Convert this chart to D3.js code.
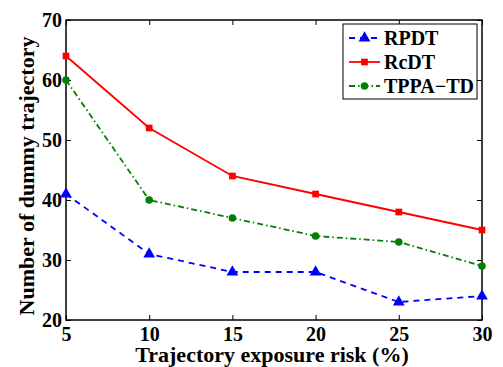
<!DOCTYPE html>
<html>
<head>
<meta charset="utf-8">
<script src="https://cdn.jsdelivr.net/npm/d3@7"></script>
<style>
  body { margin: 0; background: #fff; }
  svg text { font-family: "Liberation Serif", "Times New Roman", serif; font-weight: bold; }
  .tick text { font-size: 20px; fill: #000; }
</style>
</head>
<body>
<div id="chart"></div>
<script>
// data
var risk = [5, 10, 15, 20, 25, 30];
var rpdt = [41, 31, 28, 28, 23, 24];
var rcdt = [64, 52, 44, 41, 38, 35];
var tppa = [60, 40, 37, 34, 33, 29];
var xTicks = [5, 10, 15, 20, 25, 30];
var yTicks = [20, 30, 40, 50, 60, 70];

var width = 503, height = 367;
var margin = { top: 20, right: 21, bottom: 47, left: 66 };
var innerW = width - margin.left - margin.right;
var innerH = height - margin.top - margin.bottom;

var svg = d3.select('#chart').append('svg')
    .attr('width', width)
    .attr('height', height);

var g = svg.append('g')
    .attr('transform', `translate(${margin.left}, ${margin.top})`);

var x = d3.scaleLinear().domain([5, 30]).range([0, innerW]);
var y = d3.scaleLinear().domain([20, 70]).range([innerH, 0]);

// frame
g.append('rect')
    .attr('width', innerW).attr('height', innerH)
    .attr('fill', 'none').attr('stroke', '#000').attr('stroke-width', 1.5);

// axes with inward ticks (matlab style, all four sides)
var tickLen = 5;
var xb = g.append('g').attr('transform', `translate(0, ${innerH})`)
    .call(d3.axisBottom(x).tickValues(xTicks).tickSizeInner(-tickLen).tickSizeOuter(0).tickPadding(7));
var xt = g.append('g')
    .call(d3.axisTop(x).tickValues(xTicks).tickSizeInner(-tickLen).tickSizeOuter(0).tickFormat(''));
var yl = g.append('g')
    .call(d3.axisLeft(y).tickValues(yTicks).tickSizeInner(-tickLen).tickSizeOuter(0).tickPadding(4));
var yr = g.append('g').attr('transform', `translate(${innerW}, 0)`)
    .call(d3.axisRight(y).tickValues(yTicks).tickSizeInner(-tickLen).tickSizeOuter(0).tickFormat(''));

[xb, xt, yl, yr].forEach(function(a) {
    a.attr('font-size', null).attr('font-family', null);
    a.select('.domain').remove();
    a.selectAll('line').attr('stroke', '#000').attr('stroke-width', 1);
});
xb.selectAll('text').attr('dy', '0.71em');

// axis titles
svg.append('text')
    .attr('x', margin.left + innerW / 2 - 2).attr('y', 362)
    .attr('text-anchor', 'middle').attr('font-size', 22)
    .text('Trajectory exposure risk (%)');
svg.append('text')
    .attr('transform', `translate(34, ${margin.top + innerH / 2 + 6}) rotate(-90)`)
    .attr('text-anchor', 'middle').attr('font-size', 22)
    .text('Number of dummy trajectory');

var series = [
    { name: 'RPDT', values: rpdt, color: '#0000ff', dash: '6,5', marker: d3.symbolTriangle, size: 60 },
    { name: 'RcDT', values: rcdt, color: '#ff0000', dash: null, marker: d3.symbolSquare, size: 45 },
    { name: 'TPPA\u2212TD', values: tppa, color: '#008000', dash: '6,3,1.5,3', marker: d3.symbolCircle, size: 45 }
];

var line = d3.line()
    .x(function(d, i) { return x(risk[i]); })
    .y(function(d) { return y(d); });

series.forEach(function(s) {
    g.append('path')
        .datum(s.values)
        .attr('fill', 'none')
        .attr('stroke', s.color)
        .attr('stroke-width', 1.8)
        .attr('stroke-dasharray', s.dash)
        .attr('d', line);
    g.selectAll(null)
        .data(s.values)
        .enter()
        .append('path')
            .attr('transform', function(d, i) { return `translate(${x(risk[i])}, ${y(d)})`; })
            .attr('d', d3.symbol().type(s.marker).size(s.size))
            .attr('fill', s.color);
});

// legend
var legend = svg.append('g').attr('transform', 'translate(343, 24)');
legend.append('rect')
    .attr('width', 134).attr('height', 75)
    .attr('fill', '#fff').attr('stroke', '#000').attr('stroke-width', 1);
series.forEach(function(s, i) {
    var ly = 14 + i * 24;
    legend.append('line')
        .attr('x1', 6).attr('x2', 37).attr('y1', ly).attr('y2', ly)
        .attr('stroke', s.color).attr('stroke-width', 1.8)
        .attr('stroke-dasharray', s.dash);
    legend.append('path')
        .attr('transform', `translate(21.5, ${ly})`)
        .attr('d', d3.symbol().type(s.marker).size(s.size))
        .attr('fill', s.color);
    legend.append('text')
        .attr('x', 41).attr('y', ly).attr('dy', '0.35em')
        .attr('font-size', 20)
        .text(s.name);
});
</script>
</body>
</html>
